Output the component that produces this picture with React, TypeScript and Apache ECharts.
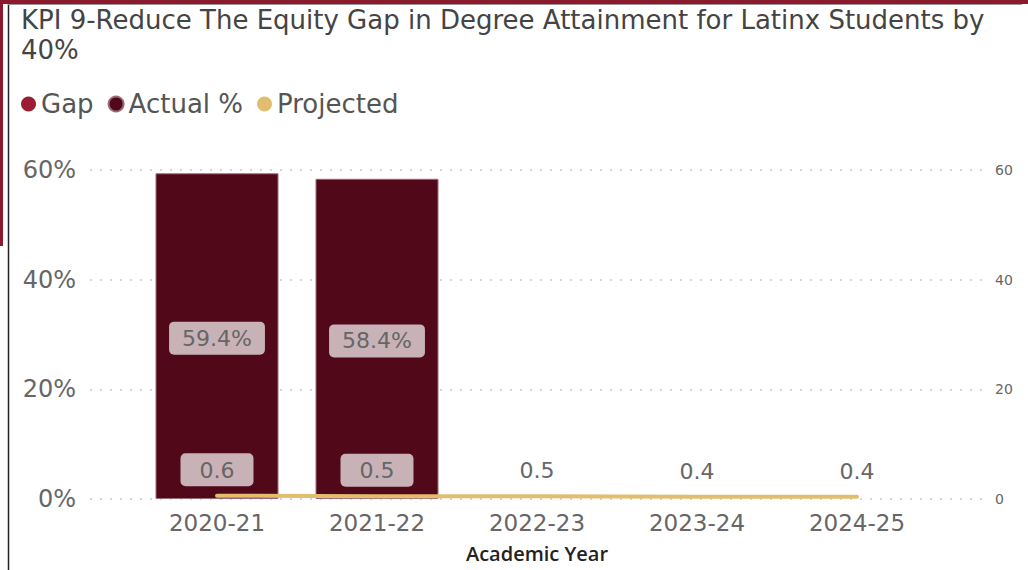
import React, { useEffect, useRef } from "react";
import * as echarts from "echarts";

const titleText = "KPI 9-Reduce The Equity Gap in Degree Attainment for Latinx Students by\n40%";
const categories = ["2020-21", "2021-22", "2022-23", "2023-24", "2024-25"];
const actualPct: (number | null)[] = [59.4, 58.4, null, null, null];
const projected = [0.6, 0.5, 0.5, 0.4, 0.4];
const gap: (number | null)[] = [];
const seriesNames = ["Gap", "Actual %", "Projected"];
const axisMin = 0;
const axisMax = 60;
const axisStep = 20;

const FONT = "'DejaVu Sans', sans-serif";
const BOX_BG = "#c8b2b7";

export default function App() {
  const ref = useRef<HTMLDivElement>(null);
  useEffect(() => {
    if (!ref.current) return;
    const chart = echarts.init(ref.current, undefined, { renderer: "svg" });
    const hasBox = (i: number) => actualPct[i] != null;
    chart.setOption({
      animation: false,
      backgroundColor: "#ffffff",
      title: {
        text: titleText,
        left: 16,
        top: 0,
        textStyle: { fontFamily: FONT, fontSize: 26, fontWeight: "normal", color: "#444444", lineHeight: 30 },
      },
      legend: {
        left: 16,
        top: 86,
        icon: "circle",
        itemWidth: 15,
        itemHeight: 15,
        itemGap: 14,
        data: seriesNames,
        textStyle: { fontFamily: FONT, fontSize: 26, color: "#555555" },
      },
      graphic: [
        { type: "rect", shape: { x: 0, y: 0, width: 1028, height: 4 }, style: { fill: "#8b1a2c" }, silent: true },
        { type: "rect", shape: { x: 0, y: 0, width: 3, height: 246 }, style: { fill: "#8b1a2c" }, silent: true },
        { type: "line", shape: { x1: 8.5, y1: 4, x2: 8.5, y2: 570 }, style: { stroke: "#222222", lineWidth: 1.5 }, silent: true },
        { type: "line", shape: { x1: 8, y1: 4.5, x2: 1022, y2: 4.5 }, style: { stroke: "#999999", lineWidth: 1 }, silent: true },
      ],
      grid: [
        { left: 90, right: 43, top: 170, bottom: 71, outerBoundsMode: "none", containLabel: false },
        { left: 137, right: 91, top: 170, bottom: 71, outerBoundsMode: "none", containLabel: false },
      ],
      xAxis: [
        { type: "category", gridIndex: 0, data: categories, show: false },
        {
          type: "category",
          gridIndex: 1,
          data: categories,
          axisLine: { show: false },
          axisTick: { show: false },
          axisLabel: { fontFamily: FONT, fontSize: 23, color: "#666666", margin: 12 },
          name: "Academic Year",
          nameLocation: "middle",
          nameGap: 44,
          nameTextStyle: { fontFamily: "'Open Sans', sans-serif", fontSize: 20, color: "#222222", fontWeight: 600 },
        },
      ],
      yAxis: [
        {
          type: "value",
          gridIndex: 0,
          min: axisMin,
          max: axisMax,
          interval: axisStep,
          axisLine: { show: false },
          axisTick: { show: false },
          axisLabel: { formatter: "{value}%", fontFamily: FONT, fontSize: 24, color: "#666666", margin: 14 },
          splitLine: { show: true, lineStyle: { color: "#c8c8c8", width: 1.5, type: [2, 8] } },
        },
        {
          type: "value",
          gridIndex: 0,
          position: "right",
          min: axisMin,
          max: axisMax,
          interval: axisStep,
          axisLine: { show: false },
          axisTick: { show: false },
          axisLabel: { fontFamily: FONT, fontSize: 14, color: "#666666", margin: 10 },
          splitLine: { show: false },
        },
        { type: "value", gridIndex: 1, min: axisMin, max: axisMax, show: false },
        { type: "value", gridIndex: 1, min: axisMin, max: axisMax, show: false, position: "right" },
      ],
      series: [
        {
          name: "Gap",
          type: "line",
          xAxisIndex: 1,
          yAxisIndex: 3,
          data: gap,
          itemStyle: { color: "#9b1d33" },
        },
        {
          name: "Actual %",
          type: "bar",
          xAxisIndex: 1,
          yAxisIndex: 2,
          data: actualPct,
          barWidth: 123,
          itemStyle: { color: "#510818", borderColor: "#9a6c78", borderWidth: 1 },
          label: {
            show: true,
            position: "inside",
            offset: [0, 2],
            formatter: (p: any) => `${p.value.toFixed(1)}%`,
            fontFamily: FONT,
            fontSize: 22,
            color: "#666666",
            backgroundColor: BOX_BG,
            borderRadius: 5,
            padding: [6, 13, 5, 13],
          },
        },
        {
          name: "Projected",
          type: "line",
          xAxisIndex: 1,
          yAxisIndex: 3,
          z: 5,
          data: projected.map((v, i) => ({
            value: v,
            label: hasBox(i)
              ? { backgroundColor: BOX_BG, borderRadius: 5 }
              : { backgroundColor: "transparent" },
          })),
          showSymbol: true,
          symbol: "circle",
          symbolSize: 1,
          itemStyle: { color: "#e2bd6e" },
          lineStyle: { color: "#e2bd6e", width: 4, cap: "round" },
          label: {
            show: true,
            position: "top",
            distance: 9,
            formatter: (p: any) => p.value.toFixed(1),
            fontFamily: FONT,
            fontSize: 22,
            color: "#666666",
            padding: [6, 19, 5, 19],
          },
        },
      ],
    });
    return () => chart.dispose();
  }, []);
  return (
    <div
      ref={ref}
      style={{ position: "fixed", left: 0, top: 0, width: 1028, height: 570, background: "#fff" }}
    />
  );
}
